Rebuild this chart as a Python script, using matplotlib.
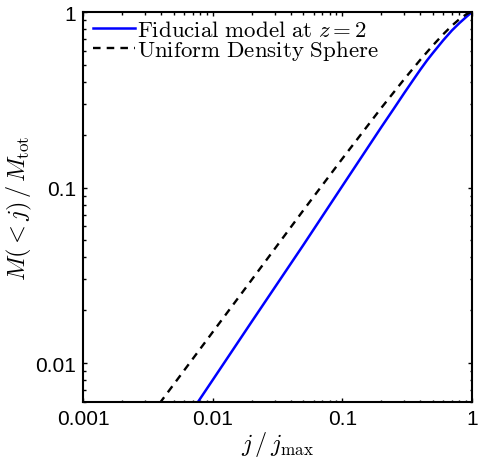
import matplotlib
matplotlib.use("Agg")
import matplotlib.pyplot as plt
from matplotlib.ticker import FixedLocator, FixedFormatter, LogLocator, NullFormatter

plt.rcParams['mathtext.fontset'] = 'cm'
plt.rcParams['font.family'] = ['Liberation Sans', 'DejaVu Sans']

# values
fid_j = [0.0077, 0.01, 0.02, 0.05, 0.1, 0.2, 0.25, 0.3, 0.35, 0.4, 0.45, 0.5, 0.6, 0.7, 0.8, 0.9, 0.95, 1.0]
fid_m = [0.006, 0.0080, 0.0172, 0.047, 0.102, 0.221, 0.282, 0.345, 0.4075, 0.47, 0.53, 0.585, 0.69, 0.785,
         0.865, 0.935, 0.968, 1.0]

uni_j = [0.0039, 0.01, 0.02, 0.05, 0.1, 0.2, 0.3, 0.4, 0.5, 0.6, 0.7, 0.8, 0.9, 0.95, 1.0]
uni_m = [0.0059, 0.0150, 0.0298, 0.0741, 0.146, 0.2845, 0.414, 0.535, 0.646, 0.747, 0.836, 0.911, 0.968, 0.989, 1.0]

xticks = [0.001, 0.01, 0.1, 1]
xlabels = ['0.001', '0.01', '0.1', '1']
yticks = [0.01, 0.1, 1]
ylabels = ['0.01', '0.1', '1']

fig = plt.figure(figsize=(4.78, 4.60), dpi=100)
ax = fig.add_axes([0.1736, 0.1239, 0.8138, 0.8478])

ax.plot(fid_j, fid_m, c='blue', lw=1.8, label=r'$\mathrm{Fiducial\ model\ at\ }z=2$')
ax.plot(uni_j, uni_m, c='black', lw=1.7, ls=(0, (3.2, 2.6)), label=r'$\mathrm{Uniform\ Density\ Sphere}$')

ax.set_xscale('log')
ax.set_yscale('log')
ax.set_xlim(0.001, 1)
ax.set_ylim(0.006, 1)

ax.xaxis.set_major_locator(FixedLocator(xticks))
ax.xaxis.set_major_formatter(FixedFormatter(xlabels))
ax.yaxis.set_major_locator(FixedLocator(yticks))
ax.yaxis.set_major_formatter(FixedFormatter(ylabels))
ax.xaxis.set_minor_locator(LogLocator(base=10, subs=range(2, 10)))
ax.yaxis.set_minor_locator(LogLocator(base=10, subs=range(2, 10)))
ax.xaxis.set_minor_formatter(NullFormatter())
ax.yaxis.set_minor_formatter(NullFormatter())

ax.tick_params(which='both', direction='in', top=True, right=True, width=1.0, labelsize=15, pad=5)
ax.tick_params(which='major', length=3)
ax.tick_params(which='minor', length=1.8)
for sp in ax.spines.values():
    sp.set_linewidth(1.5)

ax.set_xlabel(r'$j\,/\,j_{\rm max}$', fontsize=17.5, labelpad=1)
ax.set_ylabel(r'$M(<j)\,/\,M_{\rm tot}$', fontsize=17.5, labelpad=1)

ax.legend(loc='upper left', frameon=False, fontsize=16.5, handlelength=1.8,
          handletextpad=0.1, borderaxespad=0.1, borderpad=0.15, labelspacing=-0.1,
          bbox_to_anchor=(0.012, 1.0))

fig.savefig('out.png', dpi=100)
